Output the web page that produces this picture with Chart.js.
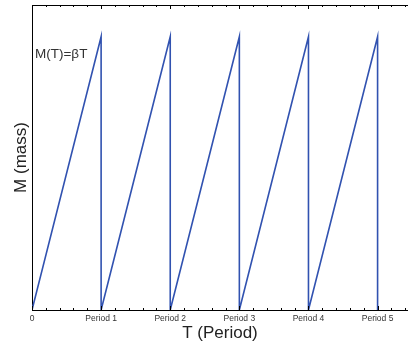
<!DOCTYPE html>
<html>
<head>
<meta charset="utf-8">
<script src="https://cdn.jsdelivr.net/npm/chart.js@4/dist/chart.umd.min.js"></script>
<style>
  body { margin: 0; background: #fff; }
  canvas { display: block; }
</style>
</head>
<body>
<canvas id="grafico" width="408" height="344"></canvas>
<script>
// ======== DADOS ========
// tempo em periodos, a massa cresce ate o pico e cai a zero no fim de cada periodo
const tempos = [0, 1, 1, 2, 2, 3, 3, 4, 4, 5, 5];
const massas = [0, 1, 0, 1, 0, 1, 0, 1, 0, 1, 0];
const rotulosPeriodo = ['0', 'Period 1', 'Period 2', 'Period 3', 'Period 4', 'Period 5'];
const textoFormula = 'M(T)=\u03B2T';

const fonte = '"Liberation Sans", Arial, sans-serif';

// ======== EIXO SUPERIOR + MARCAS PARA DENTRO ========
const marcasInternas = {
  id: 'marcasInternas',
  afterDraw(chart) {
    const { ctx, chartArea, scales } = chart;
    const x = scales.x;
    ctx.save();
    ctx.strokeStyle = '#000';
    ctx.lineWidth = 1;
    ctx.beginPath();
    ctx.moveTo(chartArea.left, chartArea.top + 0.5);
    ctx.lineTo(chartArea.right, chartArea.top + 0.5);
    ctx.stroke();

    for (let i = 0; i * 0.2 <= x.max + 1e-9; i++) {
      const px = Math.round(x.getPixelForValue(i * 0.2)) + 0.5;
      const len = i % 5 === 0 ? 4 : 2;
      ctx.beginPath();
      ctx.moveTo(px, chartArea.bottom);
      ctx.lineTo(px, chartArea.bottom - len);
      ctx.moveTo(px, chartArea.top);
      ctx.lineTo(px, chartArea.top + len);
      ctx.stroke();
    }

    // rotulo da formula
    ctx.fillStyle = '#333';
    ctx.font = '13.5px ' + fonte;
    ctx.textBaseline = 'middle';
    ctx.fillText(textoFormula, 35, 54);
    ctx.restore();
  }
};

const ctx = document.getElementById('grafico').getContext('2d');
const grafico = new Chart(ctx, {
  type: 'line',
  data: {
    datasets: [{
      data: tempos.map((t, i) => ({ x: t, y: massas[i] })),
      borderColor: '#3152b0',
      borderWidth: 1.6,
      pointRadius: 0,
      tension: 0,
      fill: false
    }]
  },
  options: {
    responsive: false,
    animation: false,
    layout: { padding: { top: 5, right: 0, left: 0, bottom: 0 } },
    plugins: { legend: { display: false }, tooltip: { enabled: false } },
    scales: {
      x: {
        type: 'linear',
        min: 0,
        max: 5.44,
        afterFit: s => { s.height = 34; s.paddingLeft = 0; s.paddingRight = 0; },
        grid: { display: false, drawTicks: false },
        border: { display: true, color: '#000', width: 1 },
        ticks: {
          stepSize: 0.2,
          autoSkip: false,
          maxRotation: 0,
          padding: 4,
          color: '#333',
          font: { family: fonte, size: 8.5 },
          callback: v => {
            const n = Math.round(v);
            return Math.abs(v - n) < 1e-6 && n < rotulosPeriodo.length ? rotulosPeriodo[n] : '';
          }
        },
        title: {
          display: true,
          text: 'T (Period)',
          color: '#222',
          padding: { top: 0, bottom: 0 },
          font: { family: fonte, size: 17 }
        }
      },
      y: {
        min: 0,
        max: 1.116,
        afterFit: s => { s.width = 32; s.paddingTop = 0; s.paddingBottom = 0; },
        grid: { display: false, drawTicks: false },
        border: { display: true, color: '#000', width: 1 },
        ticks: { display: false },
        title: {
          display: true,
          text: 'M (mass)',
          color: '#222',
          padding: { top: 11, bottom: 0 },
          font: { family: fonte, size: 17 }
        }
      }
    }
  },
  plugins: [marcasInternas]
});
</script>
</body>
</html>
